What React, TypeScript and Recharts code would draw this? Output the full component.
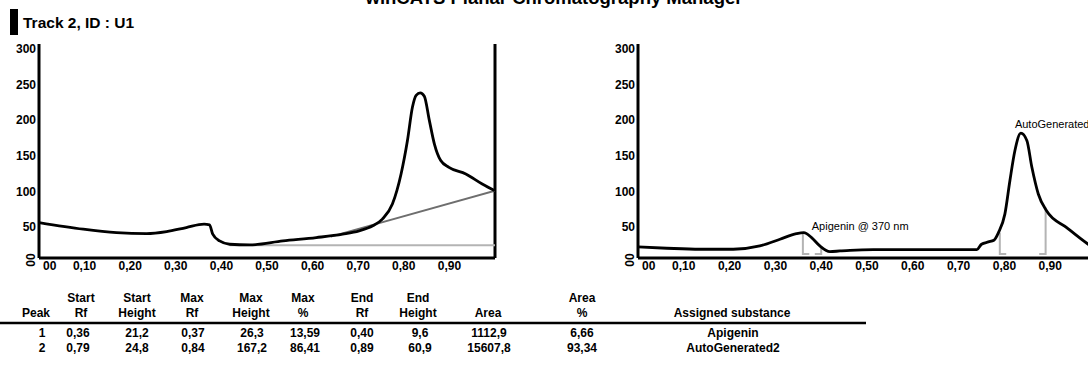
import React from 'react';
import { LineChart, Line, XAxis, YAxis, ReferenceLine, ReferenceDot } from 'recharts';

// ---------- data ----------
const xTicks = [0, 0.1, 0.2, 0.3, 0.4, 0.5, 0.6, 0.7, 0.8, 0.9];
const yTicks = [0, 50, 100, 150, 200, 250, 300];

const leftRaw = [
  { rf: 0, v: 49.7 }, { rf: 0.097, v: 40.4 }, { rf: 0.17, v: 35.6 }, { rf: 0.236, v: 34.2 },
  { rf: 0.28, v: 37.0 }, { rf: 0.323, v: 42.7 }, { rf: 0.362, v: 47.4 }, { rf: 0.374, v: 46.5 },
  { rf: 0.381, v: 33.4 }, { rf: 0.396, v: 23.9 }, { rf: 0.418, v: 19.3 }, { rf: 0.462, v: 18.3 },
  { rf: 0.535, v: 23.9 }, { rf: 0.608, v: 28.6 }, { rf: 0.666, v: 33.4 }, { rf: 0.702, v: 38.0 },
  { rf: 0.732, v: 45.1 }, { rf: 0.753, v: 54.5 }, { rf: 0.775, v: 75.6 }, { rf: 0.794, v: 117.8 },
  { rf: 0.808, v: 164.7 }, { rf: 0.819, v: 211.6 }, { rf: 0.827, v: 228.1 }, { rf: 0.836, v: 231.5 },
  { rf: 0.845, v: 226.7 }, { rf: 0.856, v: 192.9 }, { rf: 0.867, v: 160.1 }, { rf: 0.881, v: 136.6 },
  { rf: 0.899, v: 127.1 }, { rf: 0.936, v: 117.8 }, { rf: 0.972, v: 103.8 }, { rf: 1.0, v: 94.3 },
];
const leftBaseFlat = [{ rf: 0.418, v: 18 }, { rf: 1.0, v: 18 }];
const leftBaseSlope = [{ rf: 0.64, v: 30 }, { rf: 1.0, v: 94.3 }];

const rightRaw = [
  { rf: 0, v: 15.5 }, { rf: 0.063, v: 13.7 }, { rf: 0.135, v: 12.3 }, { rf: 0.208, v: 12.3 },
  { rf: 0.266, v: 16.9 }, { rf: 0.31, v: 26.3 }, { rf: 0.346, v: 34.2 }, { rf: 0.362, v: 35.6 },
  { rf: 0.379, v: 28.6 }, { rf: 0.397, v: 16.9 }, { rf: 0.419, v: 8.9 }, { rf: 0.441, v: 9.9 },
  { rf: 0.463, v: 10.8 }, { rf: 0.514, v: 11.7 }, { rf: 0.623, v: 11.7 }, { rf: 0.74, v: 11.7 },
  { rf: 0.75, v: 19.3 }, { rf: 0.765, v: 22.5 }, { rf: 0.777, v: 24.9 }, { rf: 0.787, v: 35.6 },
  { rf: 0.801, v: 61.5 }, { rf: 0.812, v: 108.4 }, { rf: 0.823, v: 150.7 }, { rf: 0.836, v: 175 },
  { rf: 0.849, v: 164.7 }, { rf: 0.86, v: 127.1 }, { rf: 0.874, v: 89.7 }, { rf: 0.892, v: 66.2 },
  { rf: 0.936, v: 42.7 }, { rf: 0.983, v: 19.3 }, { rf: 1.0, v: 12 },
];

// peak integration brackets (start / end Rf, curve height at those Rf)
const peakStartRf = [0.36, 0.79];
const peakEndRf = [0.40, 0.89];
const peakStartTop = [34.2, 35.6];
const peakEndTop = [16.9, 70.8];
const bracketBottom = 5.5;
const bracketFoot = 0.014;
const peakLabels = ['Apigenin @ 370 nm', 'AutoGenerated2'];
const peakLabelRf = [0.362, 0.836];
const peakLabelV = [35.6, 175];

// table
const colPeak = [1, 2];
const colStartRf = [0.36, 0.79];
const colStartHeight = [21.2, 24.8];
const colMaxRf = [0.37, 0.84];
const colMaxHeight = [26.3, 167.2];
const colMaxPct = [13.59, 86.41];
const colEndRf = [0.40, 0.89];
const colEndHeight = [9.6, 60.9];
const colArea = [1112.9, 15607.8];
const colAreaPct = [6.66, 93.34];
const colSubstance = ['Apigenin', 'AutoGenerated2'];

// ---------- helpers ----------
const FONT = 'Arial, "Liberation Sans", Helvetica, sans-serif';
const fmt = (n: number, d: number) => n.toFixed(d).replace('.', ',');

const XTick = (props: any) => {
  const { x, y, payload } = props;
  const v = payload.value as number;
  if (v === 0) {
    return (
      <text x={x + 4} y={y + 12} textAnchor="start" fontSize={12} fontWeight="bold" fill="#000" fontFamily={FONT}>
        00
      </text>
    );
  }
  return (
    <text x={x} y={y + 12} textAnchor="middle" fontSize={12} fontWeight="bold" fill="#000" fontFamily={FONT}>
      {fmt(v, 2)}
    </text>
  );
};

const YTick = (props: any) => {
  const { x, y, payload } = props;
  const v = payload.value as number;
  if (v === 0) {
    const cx = x - 8;
    const cy = y + 2;
    return (
      <text x={cx} y={cy} transform={`rotate(-90, ${cx}, ${cy})`} textAnchor="middle" dominantBaseline="central"
        fontSize={12} fontWeight="bold" fill="#000" fontFamily={FONT}>
        00
      </text>
    );
  }
  return (
    <text x={x - 3} y={y + 9} textAnchor="end" fontSize={12} fontWeight="bold" fill="#000" fontFamily={FONT}>
      {v}
    </text>
  );
};

const axisLine = { stroke: '#000', strokeWidth: 3 };

const Axes = () => null;

function LeftChart() {
  return (
    <LineChart width={520} height={290} margin={{ top: 44, right: 25, bottom: 0, left: 0 }}>
      <XAxis type="number" dataKey="rf" domain={[0, 1]} ticks={xTicks} interval={0} tick={<XTick />}
        tickLine={false} tickSize={0} tickMargin={0} height={32} axisLine={axisLine} allowDataOverflow />
      <YAxis type="number" domain={[0, 300]} ticks={yTicks} interval={0} tick={<YTick />}
        tickLine={false} tickSize={0} tickMargin={0} width={39} axisLine={axisLine} allowDataOverflow />
      <ReferenceLine x={1} stroke="#000" strokeWidth={3} />
      <Line data={leftBaseFlat} dataKey="v" type="linear" stroke="#b4b4b4" strokeWidth={2} dot={false} isAnimationActive={false} />
      <Line data={leftBaseSlope} dataKey="v" type="linear" stroke="#6e6e6e" strokeWidth={2} dot={false} isAnimationActive={false} />
      <Line data={leftRaw} dataKey="v" type="monotone" stroke="#000" strokeWidth={2.8} dot={false} isAnimationActive={false} />
    </LineChart>
  );
}

function RightChart() {
  const brackets: { rf: number; v: number }[][] = [];
  peakStartRf.forEach((s, i) => {
    brackets.push([
      { rf: s, v: peakStartTop[i] },
      { rf: s, v: bracketBottom },
      { rf: s + bracketFoot, v: bracketBottom },
    ]);
    brackets.push([
      { rf: peakEndRf[i] - bracketFoot, v: bracketBottom },
      { rf: peakEndRf[i], v: bracketBottom },
      { rf: peakEndRf[i], v: peakEndTop[i] },
    ]);
  });
  return (
    <LineChart width={540} height={290} margin={{ top: 44, right: 43, bottom: 0, left: 0 }}>
      <XAxis type="number" dataKey="rf" domain={[0, 1]} ticks={xTicks} interval={0} tick={<XTick />}
        tickLine={false} tickSize={0} tickMargin={0} height={32} axisLine={axisLine} allowDataOverflow />
      <YAxis type="number" domain={[0, 300]} ticks={yTicks} interval={0} tick={<YTick />}
        tickLine={false} tickSize={0} tickMargin={0} width={39} axisLine={axisLine} allowDataOverflow />
      <ReferenceLine x={1} stroke="#000" strokeWidth={3} />
      {brackets.map((b, i) => (
        <Line key={'b' + i} data={b} dataKey="v" type="linear" stroke="#b4b4b4" strokeWidth={2} dot={false} isAnimationActive={false} />
      ))}
      <Line data={rightRaw} dataKey="v" type="monotone" stroke="#000" strokeWidth={2.8} dot={false} isAnimationActive={false} />
      <ReferenceDot x={peakLabelRf[0]} y={peakLabelV[0]} r={0}
        shape={(p: any) => (
          <text x={p.cx + 8} y={p.cy - 3} fontSize={11} fill="#000" fontFamily={FONT}>{peakLabels[0]}</text>
        )} />
      <ReferenceDot x={peakLabelRf[1]} y={peakLabelV[1]} r={0}
        shape={(p: any) => (
          <text x={p.cx - 6} y={p.cy - 5} fontSize={11} fill="#000" fontFamily={FONT}>{peakLabels[1]}</text>
        )} />
    </LineChart>
  );
}

type Col = { hx: number; h1?: string; h2: string; vx: number; vals: string[] };

function Table() {
  const cols: Col[] = [
    { hx: 36, h2: 'Peak', vx: 42, vals: colPeak.map(String) },
    { hx: 81, h1: 'Start', h2: 'Rf', vx: 78, vals: colStartRf.map((n) => fmt(n, 2)) },
    { hx: 137, h1: 'Start', h2: 'Height', vx: 137, vals: colStartHeight.map((n) => fmt(n, 1)) },
    { hx: 192, h1: 'Max', h2: 'Rf', vx: 193, vals: colMaxRf.map((n) => fmt(n, 2)) },
    { hx: 251, h1: 'Max', h2: 'Height', vx: 252, vals: colMaxHeight.map((n) => fmt(n, 1)) },
    { hx: 303, h1: 'Max', h2: '%', vx: 305, vals: colMaxPct.map((n) => fmt(n, 2)) },
    { hx: 362, h1: 'End', h2: 'Rf', vx: 362, vals: colEndRf.map((n) => fmt(n, 2)) },
    { hx: 418, h1: 'End', h2: 'Height', vx: 420, vals: colEndHeight.map((n) => fmt(n, 1)) },
    { hx: 488, h2: 'Area', vx: 489, vals: colArea.map((n) => fmt(n, 1)) },
    { hx: 582, h1: 'Area', h2: '%', vx: 582, vals: colAreaPct.map((n) => fmt(n, 2)) },
    { hx: 732, h2: 'Assigned substance', vx: 733, vals: colSubstance },
  ];
  const t = { fontSize: 12, fontWeight: 'bold' as const, fill: '#000', fontFamily: FONT, textAnchor: 'middle' as const };
  return (
    <g>
      {cols.map((c, i) => (
        <g key={i}>
          {c.h1 && <text x={c.hx} y={301.5} {...t}>{c.h1}</text>}
          <text x={c.hx} y={316.5} {...t}>{c.h2}</text>
          {c.vals.map((v, j) => (
            <text key={j} x={c.vx} y={336.5 + j * 15.5} {...t}>{v}</text>
          ))}
        </g>
      ))}
      <line x1={0} x2={866} y1={323} y2={323} stroke="#000" strokeWidth={2.5} />
    </g>
  );
}

export default function App() {
  return (
    <div style={{ position: 'absolute', left: 0, top: 0, width: 1088, height: 366, overflow: 'hidden', background: '#fff', fontFamily: FONT }}>
      <div style={{ position: 'absolute', left: 0, top: 0 }}>
        <LeftChart />
      </div>
      <div style={{ position: 'absolute', left: 599, top: 0 }}>
        <RightChart />
      </div>
      <svg width={1088} height={366} style={{ position: 'absolute', left: 0, top: 0, pointerEvents: 'none' }}>
        <text x={554} y={4} textAnchor="middle" fontSize={18.5} fontWeight="bold" fill="#000" fontFamily={FONT}>
          winCATS Planar Chromatography Manager
        </text>
        <rect x={10} y={9} width={8} height={26} fill="#000" />
        <text x={23} y={27.5} fontSize={15.5} fontWeight="bold" fill="#000" fontFamily={FONT}>
          Track 2, ID : U1
        </text>
        <Table />
      </svg>
    </div>
  );
}
